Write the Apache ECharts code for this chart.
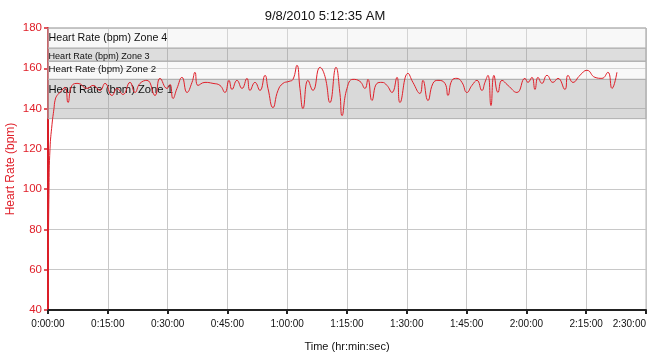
<!DOCTYPE html>
<html>
<head>
<meta charset="utf-8">
<script src="https://cdn.jsdelivr.net/npm/echarts@6/dist/echarts.min.js"></script>
<style>html,body{margin:0;padding:0;background:#fff}#c{width:650px;height:359px}</style>
</head>
<body>
<div id="c"></div>
<script>
const titleText = '9/8/2010 5:12:35 AM';
const xAxisName = 'Time (hr:min:sec)';
const yAxisName = 'Heart Rate (bpm)';
// elapsed time in minutes
const timeMin = [0,0.25,0.5,1.0,1.5,1.76,2.26,3.01,4.26,5.02,6.02,7.52,9.78,11.29,13.04,14.30,16.05,17.31,18.81,20.57,21.82,23.07,24.83,26.84,28.09,29.85,30.60,31.35,32.35,33.61,34.86,36.12,36.87,37.62,39.38,41.38,43.14,44.39,45.40,46.15,47.40,48.66,49.91,50.66,51.92,53.17,54.43,55.18,56.43,57.69,58.94,60.45,61.45,62.45,63.20,63.95,65.21,66.46,68.22,69.47,70.73,72.23,73.23,73.74,74.99,76.49,78.25,79.50,80.26,81.26,82.51,83.77,85.02,86.28,87.53,88.28,90.29,91.54,93.30,94.05,95.30,96.56,97.81,99.57,100.32,101.32,102.58,103.83,105.09,106.34,107.60,108.85,109.60,110.36,111.11,111.86,112.87,113.87,115.38,117.63,119.64,120.39,121.39,122.15,122.90,123.90,125.16,126.66,127.92,129.67,130.42,131.68,133.43,135.19,137.20,138.95,140.45,141.46,142.71];
const heartRate = [45,100,120,132,140,144,146.5,148,150.5,143,151.5,152.5,150,151.5,149,152.5,146.5,150,147,153,148,152.5,154,146.5,155,150,152,145,150,155.5,148,153,158,151.5,153,152.5,151.5,148,154,149.5,154,150,155,149,153,149,156.5,150,140.5,149,152.5,153.5,154.5,161.5,150,140,154,149,160.5,156,143,160.5,147.5,136.5,150,154.5,153.5,150,154.5,144,152.5,153,151.5,148,155.5,143,157.5,153,147.5,154,144,152.5,154,152.5,146.5,154,155,153,148,151.5,154,149,153,156.5,141.5,156.5,148,154,151.5,148,155,153,155.5,149.5,155.5,152.5,156.5,153,155,149.5,156.5,153,156.5,159,155.5,155,158,150,158];
const zoneNames = ['Heart Rate (bpm) Zone 1','Heart Rate (bpm) Zone 2','Heart Rate (bpm) Zone 3','Heart Rate (bpm) Zone 4'];
const zoneLow  = [135, 154.5, 163.5, 170];
const zoneHigh = [154.5, 163.5, 170, 180];

const zoneFill = ['rgba(150,150,150,0.36)','rgba(255,255,255,0)','rgba(150,150,150,0.32)','rgba(255,255,255,0)'];
const zoneHatch = [false, true, false, true];
const zoneFont = [11.2, 9.7, 9.1, 10.7];
const zonePadTop = [5, 3, 3, 4];

const chart = echarts.init(document.getElementById('c'));
const sans = "'Liberation Sans', Arial, sans-serif";
const fmt = v => { const h = Math.floor(v/60); const m = Math.round(v - h*60); return h + ':' + String(m).padStart(2,'0') + ':00'; };
const hatch = { symbol: 'rect', symbolSize: 1, color: 'rgba(0,0,0,0.09)', dashArrayX: [[2, 2], [0, 2, 2, 0]], dashArrayY: [2, 0], rotation: 0 };

chart.setOption({
  animation: false,
  backgroundColor: '#fff',
  title: { text: titleText, left: 'center', top: 5, textStyle: { fontFamily: sans, fontSize: 13, fontWeight: 'normal', color: '#111' } },
  grid: { left: 48, right: 4, top: 28, bottom: 49, outerBoundsMode: 'none', containLabel: false, show: true, borderColor: '#bbb', borderWidth: 1 },
  xAxis: {
    type: 'value', min: 0, max: 150, interval: 15,
    name: xAxisName, nameLocation: 'middle', nameGap: 31,
    nameTextStyle: { fontFamily: sans, fontSize: 11, color: '#111' },
    axisLine: { show: true, lineStyle: { color: '#222', width: 2 } },
    axisTick: { show: true, length: 4, lineStyle: { color: '#222', width: 2 } },
    axisLabel: { formatter: fmt, fontFamily: sans, fontSize: 10, color: '#111', margin: 9, alignMaxLabel: 'right' },
    splitLine: { show: true, lineStyle: { color: '#c8c8c8', width: 1 } }
  },
  yAxis: {
    type: 'value', min: 40, max: 180, interval: 20,
    name: yAxisName, nameLocation: 'middle', nameGap: 31, nameMoveOverlap: false,
    nameTextStyle: { fontFamily: sans, fontSize: 12, color: '#e0202a' },
    axisLine: { show: true, lineStyle: { color: '#d81e28', width: 2 } },
    axisTick: { show: true, length: 4, lineStyle: { color: '#d81e28', width: 1.5 } },
    axisLabel: { fontFamily: sans, fontSize: 11.5, color: '#e0202a', margin: 6 },
    splitLine: { show: true, lineStyle: { color: '#c8c8c8', width: 1 } }
  },
  series: [{
    type: 'line',
    data: timeMin.map((t, i) => [t, heartRate[i]]),
    smooth: 0.5,
    showSymbol: false,
    lineStyle: { color: '#e0202a', width: 1 },
    itemStyle: { color: '#e0202a' },
    z: 5,
    markArea: {
      silent: true,
      data: zoneNames.map((n, i) => [
        { name: n, yAxis: zoneLow[i],
          itemStyle: Object.assign({ color: zoneHatch[i] ? 'rgba(235,235,235,0.35)' : zoneFill[i], borderColor: '#b0b0b0', borderWidth: 1 }, zoneHatch[i] ? { decal: hatch } : {}),
          label: { show: true, position: 'insideTopLeft', distance: 1, padding: [zonePadTop[i], 0, 0, 0], fontFamily: sans, fontSize: zoneFont[i], color: '#111' } },
        { yAxis: zoneHigh[i] }
      ])
    }
  }]
});
</script>
</body>
</html>
